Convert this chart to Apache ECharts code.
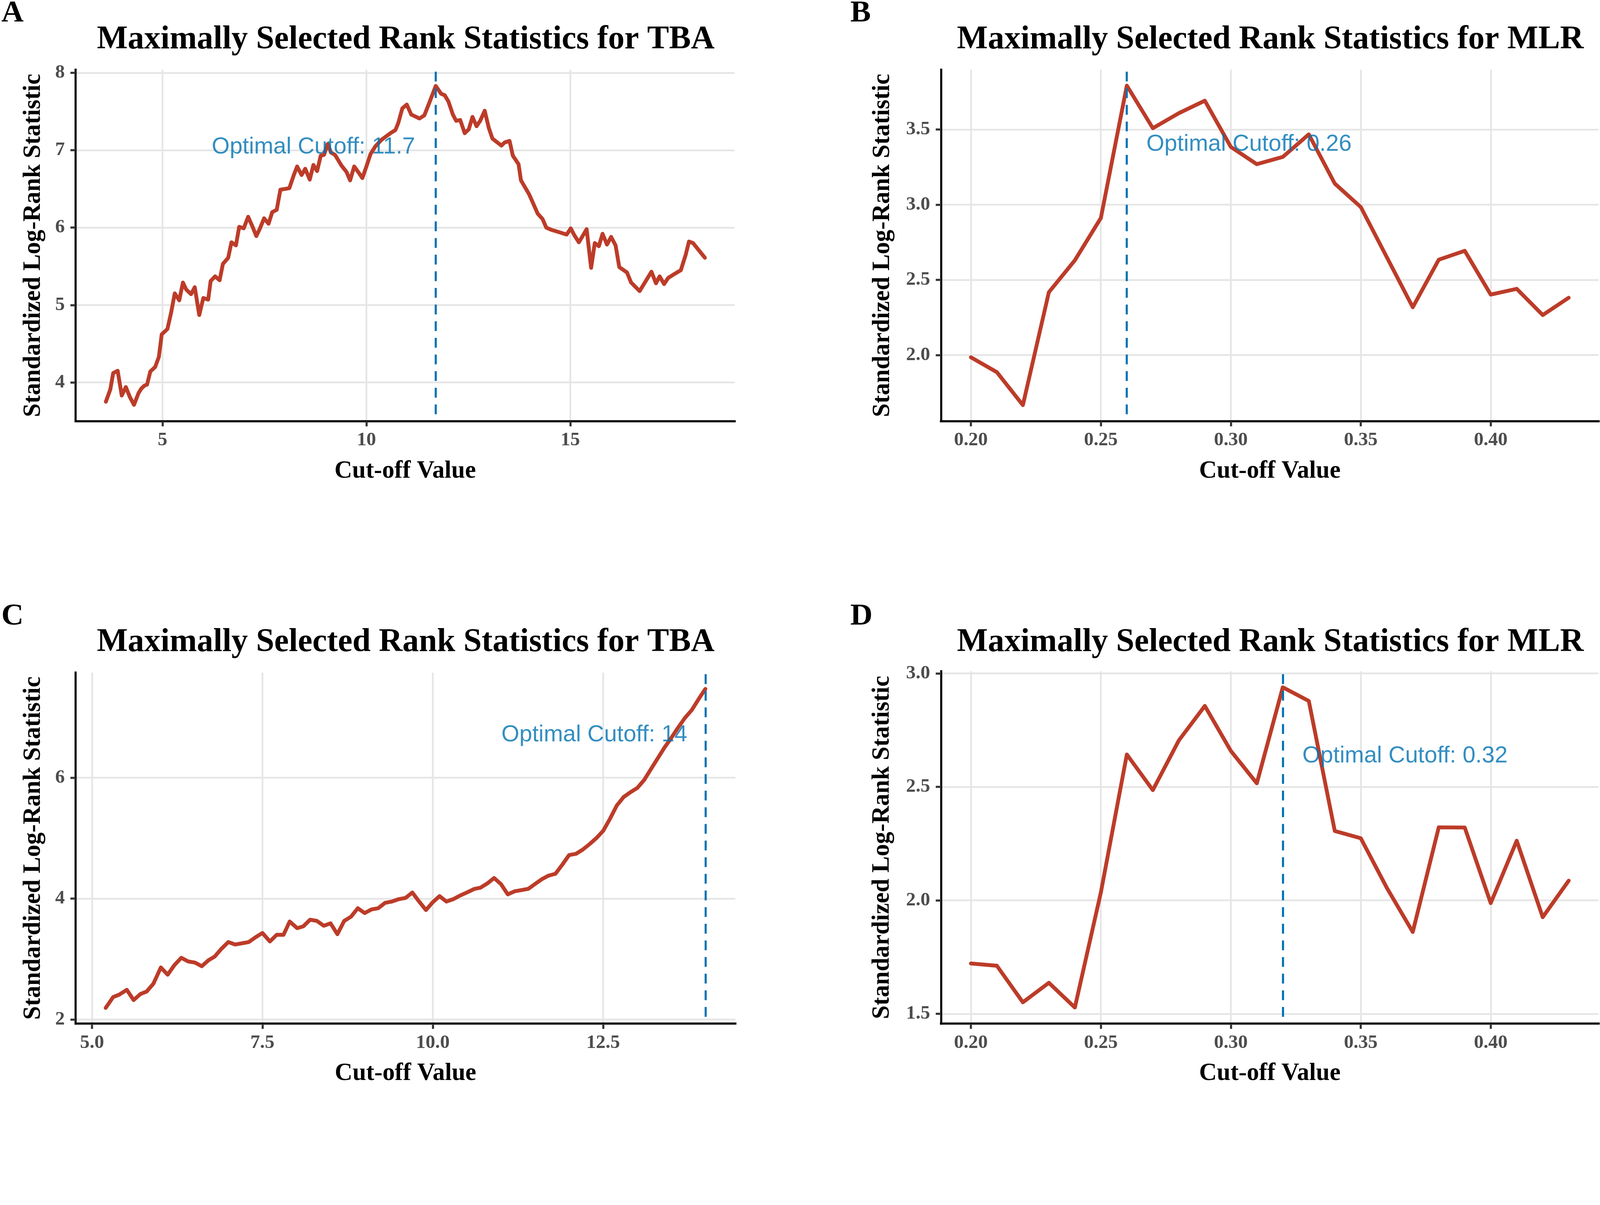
<!DOCTYPE html>
<html>
<head>
<meta charset="utf-8">
<title>Maximally Selected Rank Statistics</title>
<script src="https://cdn.jsdelivr.net/npm/echarts@6/dist/echarts.min.js"></script>
<style>
    html, body { margin: 0; padding: 0; background: #fff; overflow: hidden; }
    #main { width: 100vw; height: 100vh; }
</style>
</head>
<body>
<div id="main"></div>
<script type="text/javascript">
// panel A: TBA, first cohort
var tbaCutA = [3.61,3.72,3.79,3.90,4.00,4.10,4.20,4.30,4.41,4.48,4.56,4.62,4.70,4.82,4.91,4.98,5.12,5.21,5.30,5.41,
    5.50,5.58,5.70,5.79,5.90,6.00,6.12,6.18,6.29,6.40,6.48,6.61,6.69,6.80,6.88,6.99,7.10,7.20,7.30,7.39,
    7.49,7.60,7.69,7.80,7.89,8.01,8.11,8.22,8.30,8.41,8.50,8.61,8.70,8.79,8.88,8.96,9.05,9.13,9.23,9.39,
    9.51,9.60,9.70,9.81,9.90,10.00,10.10,10.22,10.36,10.46,10.59,10.71,10.78,10.88,10.99,
    11.10,11.30,11.42,11.54,11.70,11.83,11.92,12.01,12.12,12.20,12.30,12.41,12.51,12.60,12.70,12.79,12.90,13.00,13.09,13.21,
    13.31,13.39,13.51,13.59,13.73,13.79,13.99,14.10,14.20,14.32,14.41,14.54,14.67,14.91,15.01,15.10,15.21,15.30,15.40,15.51,
    15.60,15.70,15.79,15.90,16.00,16.11,16.20,16.39,16.49,16.70,16.99,17.10,17.19,17.30,17.40,17.52,17.71,17.83,17.91,18.01,18.30];
var tbaStatA = [3.75,3.91,4.12,4.15,3.83,3.94,3.81,3.71,3.86,3.92,3.96,3.97,4.14,4.20,4.33,4.62,4.69,4.90,5.15,5.06,
    5.29,5.20,5.14,5.23,4.87,5.09,5.07,5.31,5.37,5.32,5.53,5.61,5.81,5.77,6.01,5.99,6.14,6.02,5.89,5.99,
    6.12,6.05,6.20,6.23,6.49,6.50,6.51,6.68,6.79,6.68,6.76,6.62,6.81,6.73,6.93,6.94,7.08,6.97,6.94,6.80,
    6.72,6.61,6.79,6.71,6.64,6.79,6.95,7.05,7.13,7.17,7.22,7.26,7.35,7.54,7.59,
    7.46,7.41,7.45,7.61,7.83,7.73,7.71,7.63,7.46,7.38,7.39,7.22,7.27,7.43,7.31,7.38,7.51,7.29,7.15,7.10,
    7.06,7.10,7.12,6.93,6.82,6.61,6.43,6.30,6.18,6.11,6.00,5.97,5.95,5.91,5.99,5.90,5.81,5.89,5.98,5.48,
    5.80,5.76,5.92,5.78,5.88,5.77,5.49,5.42,5.29,5.18,5.43,5.28,5.37,5.27,5.35,5.39,5.45,5.65,5.82,5.80,5.61];

// panel B: MLR, first cohort
var mlrCutB = [0.20,0.21,0.22,0.23,0.24,0.25,0.26,0.27,0.28,0.29,0.30,0.31,0.32,0.33,0.34,0.35,0.36,0.37,0.38,0.39,0.40,0.41,0.42,0.43];
var mlrStatB = [1.985,1.886,1.667,2.418,2.630,2.911,3.791,3.508,3.608,3.691,3.384,3.269,3.317,3.467,3.140,2.984,2.651,2.318,2.634,2.693,2.402,2.440,2.266,2.381];

// panel C: TBA, second cohort
var tbaCutC = [5.20,5.31,5.40,5.51,5.61,5.71,5.80,5.90,6.01,6.11,6.21,6.31,6.41,6.51,6.61,6.71,6.80,6.90,7.00,7.10,
    7.30,7.40,7.50,7.61,7.71,7.81,7.90,8.01,8.10,8.20,8.30,8.40,8.50,8.60,8.70,8.80,8.90,9.00,9.10,9.20,
    9.30,9.40,9.50,9.60,9.70,9.80,9.90,10.00,10.10,10.20,10.30,10.40,10.50,10.61,10.70,10.80,10.90,11.00,11.10,11.20,
    11.30,11.40,11.50,11.60,11.70,11.80,11.90,12.00,12.10,12.20,12.30,12.40,12.50,12.60,12.70,12.80,12.90,13.00,13.10,13.20,
    13.30,13.40,13.50,13.60,13.70,13.80,13.90,14.00];
var tbaStatC = [2.19,2.37,2.41,2.49,2.32,2.42,2.46,2.59,2.86,2.74,2.90,3.02,2.96,2.94,2.88,2.98,3.04,3.17,3.28,3.24,
    3.28,3.36,3.43,3.29,3.40,3.40,3.62,3.51,3.54,3.65,3.63,3.55,3.59,3.41,3.63,3.70,3.84,3.76,3.82,3.84,
    3.93,3.95,3.99,4.01,4.10,3.95,3.81,3.94,4.04,3.95,3.99,4.05,4.10,4.16,4.18,4.25,4.34,4.24,4.07,4.12,
    4.14,4.16,4.24,4.32,4.38,4.41,4.56,4.72,4.74,4.81,4.90,5.00,5.12,5.32,5.54,5.68,5.76,5.83,5.96,6.14,
    6.32,6.50,6.66,6.83,6.99,7.12,7.30,7.47];

// panel D: MLR, second cohort
var mlrCutD = [0.20,0.21,0.22,0.23,0.24,0.25,0.26,0.27,0.28,0.29,0.30,0.31,0.32,0.33,0.34,0.35,0.36,0.37,0.38,0.39,0.40,0.41,0.42,0.43];
var mlrStatD = [1.722,1.712,1.551,1.637,1.528,2.035,2.643,2.486,2.705,2.857,2.659,2.516,2.939,2.879,2.306,2.274,2.056,1.861,2.322,2.321,1.988,2.263,1.926,2.087];

// cutoffs and where their notes sit (data coords)
var cutoffs = [11.7, 0.26, 14, 0.32];
var noteText = ['Optimal Cutoff: 11.7', 'Optimal Cutoff: 0.26', 'Optimal Cutoff: 14', 'Optimal Cutoff: 0.32'];
var noteX = [8.70, 0.307, 12.37, 0.367];
var noteY = [7.04, 3.40, 6.71, 2.636];

// tick labels
var tbaTicksXA = [5, 10, 15];
var tbaTicksYA = [4, 5, 6, 7, 8];
var mlrTicksX = [0.20, 0.25, 0.30, 0.35, 0.40];
var mlrTicksYB = [2.0, 2.5, 3.0, 3.5];
var tbaTicksXC = [5.0, 7.5, 10.0, 12.5];
var tbaTicksYC = [2, 4, 6];
var mlrTicksYD = [1.5, 2.0, 2.5, 3.0];

var letters = ['A', 'B', 'C', 'D'];
var titles = ['Maximally Selected Rank Statistics for TBA', 'Maximally Selected Rank Statistics for MLR',
              'Maximally Selected Rank Statistics for TBA', 'Maximally Selected Rank Statistics for MLR'];

var SERIF = '"Liberation Serif", "Times New Roman", serif';
var SANS = '"Liberation Sans", Arial, sans-serif';

var dom = document.getElementById('main');
// layout was measured on a 4567 px wide figure; scale it to whatever the page really is
var k = dom.clientWidth / 4567;
function S(v) { return v * k; }

var panels = [
    { x: tbaCutA, y: tbaStatA, xr: [2.87, 19.03], yr: [3.50, 8.04], xt: tbaTicksXA, yt: tbaTicksYA, xd: 0, yd: 0,
      grid: [216, 199, 1881, 1003], yGap: 85, letterX: 4, titleX: 1158, rowY: 0 },
    { x: mlrCutB, y: mlrStatB, xr: [0.1885, 0.4415], yr: [1.561, 3.897], xt: mlrTicksX, yt: mlrTicksYB, xd: 2, yd: 1,
      grid: [2686, 199, 1877, 1003], yGap: 131, letterX: 2427, titleX: 3626, rowY: 0 },
    { x: tbaCutC, y: tbaStatC, xr: [4.76, 14.44], yr: [1.93, 7.74], xt: tbaTicksXC, yt: tbaTicksYC, xd: 1, yd: 0,
      grid: [216, 1920, 1883, 1002], yGap: 85, letterX: 4, titleX: 1158, rowY: 1721 },
    { x: mlrCutD, y: mlrStatD, xr: [0.1885, 0.4415], yr: [1.457, 3.010], xt: mlrTicksX, yt: mlrTicksYD, xd: 2, yd: 1,
      grid: [2686, 1916, 1877, 1006], yGap: 132, letterX: 2427, titleX: 3626, rowY: 1721 }
];

var grids = [], xAxes = [], yAxes = [], series = [], graphics = [];

function axisBase(digits) {
    return {
        type: 'value',
        axisLine: { show: true, onZero: false, lineStyle: { color: '#000', width: S(6), cap: 'square' } },
        axisTick: { show: true, length: S(15), lineStyle: { color: '#333', width: S(6) } },
        axisLabel: {
            fontFamily: SERIF, fontWeight: 'bold', fontSize: S(55), color: '#4D4D4D',
            formatter: function (v) { return Number(v).toFixed(digits); }
        },
        splitLine: { show: true, lineStyle: { color: '#E5E5E5', width: S(5) } },
        nameLocation: 'middle',
        nameTextStyle: { fontFamily: SERIF, fontWeight: 'bold', fontSize: S(70), color: '#000' }
    };
}

panels.forEach(function (p, i) {
    grids.push({ left: S(p.grid[0]), top: S(p.grid[1]), width: S(p.grid[2]), height: S(p.grid[3]) });

    var xa = axisBase(p.xd);
    xa.gridIndex = i;
    xa.min = p.xr[0]; xa.max = p.xr[1];
    xa.axisTick.customValues = p.xt;
    xa.axisLabel.customValues = p.xt;
    xa.axisLabel.margin = S(28);
    xa.name = 'Cut-off Value';
    xa.nameGap = S(108);
    xAxes.push(xa);

    var ya = axisBase(p.yd);
    ya.gridIndex = i;
    ya.min = p.yr[0]; ya.max = p.yr[1];
    ya.axisTick.customValues = p.yt;
    ya.axisLabel.customValues = p.yt;
    ya.axisLabel.margin = S(31);
    ya.name = 'Standardized Log-Rank Statistic';
    ya.nameRotate = 90;
    ya.nameGap = S(p.yGap);
    yAxes.push(ya);

    var pts = p.x.map(function (v, j) { return [v, p.y[j]]; });
    series.push({
        type: 'line', xAxisIndex: i, yAxisIndex: i, data: pts,
        showSymbol: false, symbol: 'none', silent: true, z: 3,
        lineStyle: { color: '#BC3C29', width: S(11), join: 'round', cap: 'round' },
        markLine: {
            silent: true, symbol: ['none', 'none'], label: { show: false },
            lineStyle: { color: '#0072B2', width: S(6), type: [S(28), S(19.5)], dashOffset: S(28) },
            data: [{ xAxis: cutoffs[i] }]
        }
    });
    series.push({
        type: 'scatter', xAxisIndex: i, yAxisIndex: i, silent: true, z: 5,
        data: [[noteX[i], noteY[i]]],
        symbolSize: 1, itemStyle: { color: 'rgba(0,0,0,0)' },
        label: {
            show: true, position: 'inside', formatter: noteText[i],
            fontFamily: SANS, fontSize: S(66), color: '#0072B2'
        }
    });

    graphics.push({
        type: 'text', x: S(p.letterX), y: S(p.rowY + 39),
        style: { text: letters[i], fontFamily: SERIF, fontWeight: 'bold', fontSize: S(88), fill: '#000',
                 align: 'left', verticalAlign: 'middle' }
    });
    graphics.push({
        type: 'text', x: S(p.titleX), y: S(p.rowY + 114),
        style: { text: titles[i], fontFamily: SERIF, fontWeight: 'bold', fontSize: S(93.5), fill: '#000',
                 align: 'center', verticalAlign: 'middle' }
    });
});

var chart = echarts.init(dom);
chart.setOption({
    backgroundColor: '#fff',
    animation: false,
    grid: grids,
    xAxis: xAxes,
    yAxis: yAxes,
    series: series,
    graphic: graphics
});
</script>
</body>
</html>
